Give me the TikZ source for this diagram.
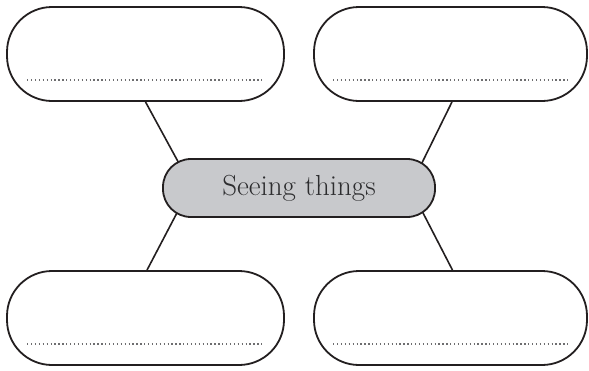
\documentclass[tikz,border=0pt]{standalone}
\usetikzlibrary{backgrounds,calc}
\definecolor{inkc}{RGB}{35,31,32}
\definecolor{fillc}{RGB}{200,201,204}
\definecolor{textc}{RGB}{45,45,47}
\definecolor{dotc}{RGB}{110,110,112}
\tikzset{
  answerbox/.style={draw=inkc, line width=1.8pt, fill=white, rounded corners=45pt,
    minimum width=#1, minimum height=94pt, inner sep=0pt},
  centrebox/.style={draw=inkc, line width=1.8pt, fill=fillc, rounded corners=28pt,
    minimum width=272pt, minimum height=58pt, inner sep=0pt, text=textc,
    font=\fontsize{29}{32}\selectfont},
  connector/.style={draw=inkc, line width=1.6pt},
  writeline/.style={draw=dotc, line width=1.4pt, dash pattern=on 1.3pt off 2.6pt}
}
\begin{document}
\begin{tikzpicture}[x=1pt,y=-1pt]
\useasboundingbox (0,0) rectangle (589,370);
\node[answerbox=277pt] (tl) at (145.5,54) {};
\node[answerbox=273pt] (tr) at (450.5,54) {};
\node[answerbox=277pt] (bl) at (145.5,318) {};
\node[answerbox=273pt] (br) at (450.5,318) {};
\node[centrebox] (c) at (299,188) {Seeing things};
\begin{scope}[on background layer]
  \draw[connector] (tl.south) -- ($(c.north west)+(20,11)$);
  \draw[connector] ($(tr.south)+(1.5,0)$) -- ($(c.north east)+(-17,11)$);
  \draw[connector] ($(bl.north)+(1.5,0)$) -- ($(c.south west)+(18,-11)$);
  \draw[connector] ($(br.north)+(2,0)$) -- ($(c.south east)+(-16,-11)$);
\end{scope}
\draw[writeline] ($(tl.west)+(21,26)$) -- ($(tl.east)+(-21,26)$);
\draw[writeline] ($(tr.west)+(20,26)$) -- ($(tr.east)+(-19,26)$);
\draw[writeline] ($(bl.west)+(21,26)$) -- ($(bl.east)+(-21,26)$);
\draw[writeline] ($(br.west)+(20,26)$) -- ($(br.east)+(-19,26)$);
\end{tikzpicture}
\end{document}
